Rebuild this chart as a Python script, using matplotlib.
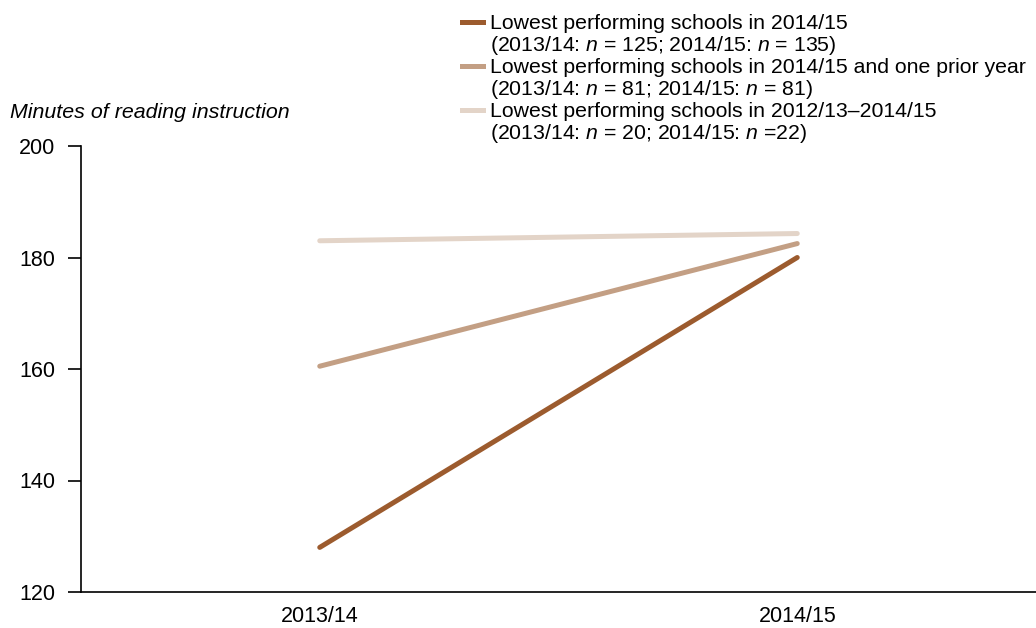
import matplotlib
matplotlib.use("Agg")
import matplotlib.pyplot as plt
from matplotlib.lines import Line2D

# data
years = ["2013/14", "2014/15"]
lowest_1415 = [128, 180]
lowest_plus_prior = [160.5, 182.5]
lowest_three_years = [183, 184.3]

series_labels = [
    ("Lowest performing schools in 2014/15",
     "(2013/14: $n$ = 125; 2014/15: $n$ = 135)"),
    ("Lowest performing schools in 2014/15 and one prior year",
     "(2013/14: $n$ = 81; 2014/15: $n$ = 81)"),
    ("Lowest performing schools in 2012/13\u20132014/15",
     "(2013/14: $n$ = 20; 2014/15: $n$ =22)"),
]
colors = ["#9c5b2e", "#c39f84", "#e3d4c8"]
yticks = [120, 140, 160, 180, 200]

FONT = "Liberation Sans"
plt.rcParams["font.family"] = FONT
plt.rcParams["mathtext.fontset"] = "custom"
plt.rcParams["mathtext.it"] = FONT + ":italic"
plt.rcParams["mathtext.rm"] = FONT

fig = plt.figure(figsize=(10.36, 6.28), dpi=100)
ax = fig.add_axes([81 / 1036, 1 - 592 / 628, 1 - 81 / 1036, (592 - 146) / 628])

x = list(range(len(years)))
for vals, c in zip([lowest_1415, lowest_plus_prior, lowest_three_years], colors):
    ax.plot(x, vals, color=c, lw=3.6, solid_capstyle="round")

ax.set_xlim(-0.5, 1.5)
ax.set_ylim(120, 200)
ax.set_yticks(yticks)
ax.set_xticks(x)
ax.set_xticklabels(years)
ax.tick_params(axis="y", length=9.5, width=1.2, direction="out", labelsize=15.5, pad=9)
ax.tick_params(axis="x", length=0, labelsize=15.5, pad=10)
for s in ["top", "right"]:
    ax.spines[s].set_visible(False)
for s in ["left", "bottom"]:
    ax.spines[s].set_linewidth(1.2)

fig.text(10 / 1036, 1 - 112 / 628, "Minutes of reading instruction",
         fontsize=15.4, style="italic", va="center", ha="left")

handles, labels = [], []
for (l1, l2), c in zip(series_labels, colors):
    handles.append(Line2D([], [], color=c, lw=3.6))
    labels.append(l1)
    handles.append(Line2D([], [], color="none", lw=0))
    labels.append(l2)

leg = fig.legend(handles, labels, loc="upper left",
                 bbox_to_anchor=(462 / 1036, 1 - 14 / 628),
                 frameon=False, fontsize=15.3, handlelength=1.0,
                 handletextpad=0.3, labelspacing=0.05, borderpad=0, borderaxespad=0)

fig.savefig("out.png", dpi=100)
